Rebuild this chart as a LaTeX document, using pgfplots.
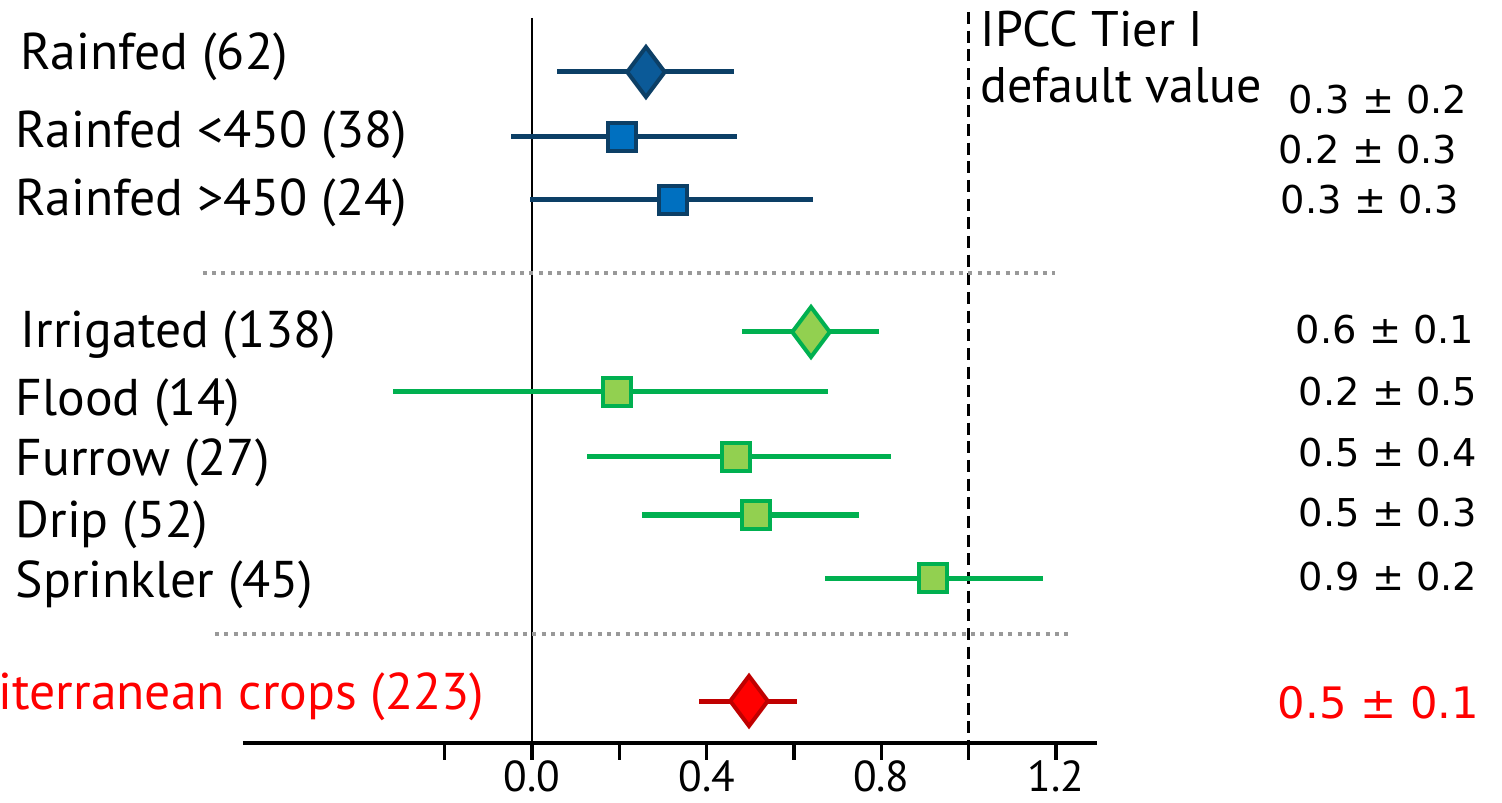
\documentclass[border=0pt]{standalone}
\usepackage{pgfplots}
\pgfplotsset{compat=1.18}
\usepackage{pgfplotstable}
\usepackage{fontspec}
\setmainfont{PT Sans}
\newfontfamily\numfont{DejaVu Sans}
\definecolor{navy}{HTML}{0C3F66}
\definecolor{navyfill}{HTML}{0B5A98}
\definecolor{bluefill}{HTML}{0070C0}
\definecolor{grn}{HTML}{00B050}
\definecolor{grnfill}{HTML}{92D050}
\definecolor{dred}{HTML}{C00000}
\definecolor{sepgray}{HTML}{999999}

% y = minus the row position
\pgfplotstableread{
x     em    ep    y
0.261 0.204 0.202 -72
}\rainall
\pgfplotstableread{
x     em    ep    y
0.206 0.254 0.264 -137
0.323 0.328 0.321 -200
}\rainsub
\pgfplotstableread{
x     em    ep    y
0.639 0.158 0.156 -332
}\irrall
\pgfplotstableread{
x     em    ep    y
0.195 0.513 0.483 -392
0.467 0.341 0.355 -457
0.513 0.261 0.236 -515
0.918 0.247 0.252 -578
}\irrsub
\pgfplotstableread{
x     em    ep    y
0.497 0.114 0.110 -701
}\medall

\begin{document}
\begin{tikzpicture}
\path[use as bounding box] (0,0) rectangle (450.6pt,-240.9pt);
\begin{axis}[
  at={(72.9pt,-222.9pt)}, anchor=south west,
  scale only axis, width=256.2pt, height=218.4pt,
  xmin=-0.662, xmax=1.294, ymin=-743, ymax=-15,
  axis x line=bottom, axis y line=none,
  axis line style={-, line width=1pt},
  xtick={-0.2,0,0.2,0.4,0.6,0.8,1.0,1.2},
  xticklabels={,0.0,,0.4,,0.8,,1.2},
  tick align=outside, major tick length=5pt,
  tick style={line width=1pt, black},
  xticklabel style={font=\fontsize{13}{15}\selectfont, inner sep=0pt, text depth=0pt, yshift=0pt},
  clip=false,
  error bars/x dir=both, error bars/x explicit,
  error bars/error mark=none,
]
\draw[line width=0.8pt] (axis cs:0,-18) -- (axis cs:0,-743);
\draw[line width=0.8pt, dash pattern=on 3.6pt off 2pt] (axis cs:1.0,-12) -- (axis cs:1.0,-743);
\draw[sepgray, line width=1.2pt, dash pattern=on 1.2pt off 1.6pt] (axis cs:-0.754,-273) -- (axis cs:1.198,-273);
\draw[sepgray, line width=1.2pt, dash pattern=on 1.2pt off 1.6pt] (axis cs:-0.726,-634) -- (axis cs:1.228,-634);

\addplot[only marks, mark=diamond*, mark size=7.5pt, mark options={fill=navyfill, draw=navy, line width=1.2pt},
  error bars/error bar style={navy, line width=1.5pt}]
  table[x=x, y=y, x error minus=em, x error plus=ep] {\rainall};
\addplot[only marks, mark=square*, mark size=4.2pt, mark options={fill=bluefill, draw=navy, line width=1.2pt},
  error bars/error bar style={navy, line width=1.5pt}]
  table[x=x, y=y, x error minus=em, x error plus=ep] {\rainsub};
\addplot[only marks, mark=diamond*, mark size=7.5pt, mark options={fill=grnfill, draw=grn, line width=1.2pt},
  error bars/error bar style={grn, line width=1.5pt}]
  table[x=x, y=y, x error minus=em, x error plus=ep] {\irrall};
\addplot[only marks, mark=square*, mark size=4.2pt, mark options={fill=grnfill, draw=grn, line width=1.2pt},
  error bars/error bar style={grn, line width=1.5pt}]
  table[x=x, y=y, x error minus=em, x error plus=ep] {\irrsub};
\addplot[only marks, mark=diamond*, mark size=7.5pt, mark options={fill=red, draw=dred, line width=1.2pt},
  error bars/error bar style={dred, line width=1.5pt}]
  table[x=x, y=y, x error minus=em, x error plus=ep] {\medall};
\end{axis}

\begin{scope}[x=0.3pt, y=-0.3pt, font=\fontsize{15.5}{18}\selectfont, inner sep=0pt]
  \node[anchor=west] at (20,57) {Rainfed (62)};
  \node[anchor=west] at (15,135) {Rainfed {<}450 (38)};
  \node[anchor=west] at (15,203) {Rainfed {>}450 (24)};
  \node[anchor=west] at (20,335) {Irrigated (138)};
  \node[anchor=west] at (15,403) {Flood (14)};
  \node[anchor=west] at (15,463) {Furrow (27)};
  \node[anchor=west] at (15,525) {Drip (52)};
  \node[anchor=west] at (15,585) {Sprinkler (45)};
  \node[anchor=east, red] at (485,697) {Mediterranean crops (223)};
  \node[anchor=north west, align=left, font=\fontsize{15}{17}\selectfont] at (980,10) {IPCC Tier I\\default value};
  \begin{scope}[font=\numfont\fontsize{11.5}{13}\selectfont]
    \node[anchor=east] at (1468,100) {0.3 ± 0.2};
    \node[anchor=east] at (1458,150) {0.2 ± 0.3};
    \node[anchor=east] at (1460,200) {0.3 ± 0.3};
    \node[anchor=east] at (1475,330) {0.6 ± 0.1};
    \node[anchor=east] at (1478,392) {0.2 ± 0.5};
    \node[anchor=east] at (1478,453) {0.5 ± 0.4};
    \node[anchor=east] at (1478,513) {0.5 ± 0.3};
    \node[anchor=east] at (1478,577) {0.9 ± 0.2};
  \end{scope}
  \node[anchor=east, red, font=\numfont\fontsize{13}{15}\selectfont] at (1480,703) {0.5 ± 0.1};
\end{scope}
\end{tikzpicture}
\end{document}
